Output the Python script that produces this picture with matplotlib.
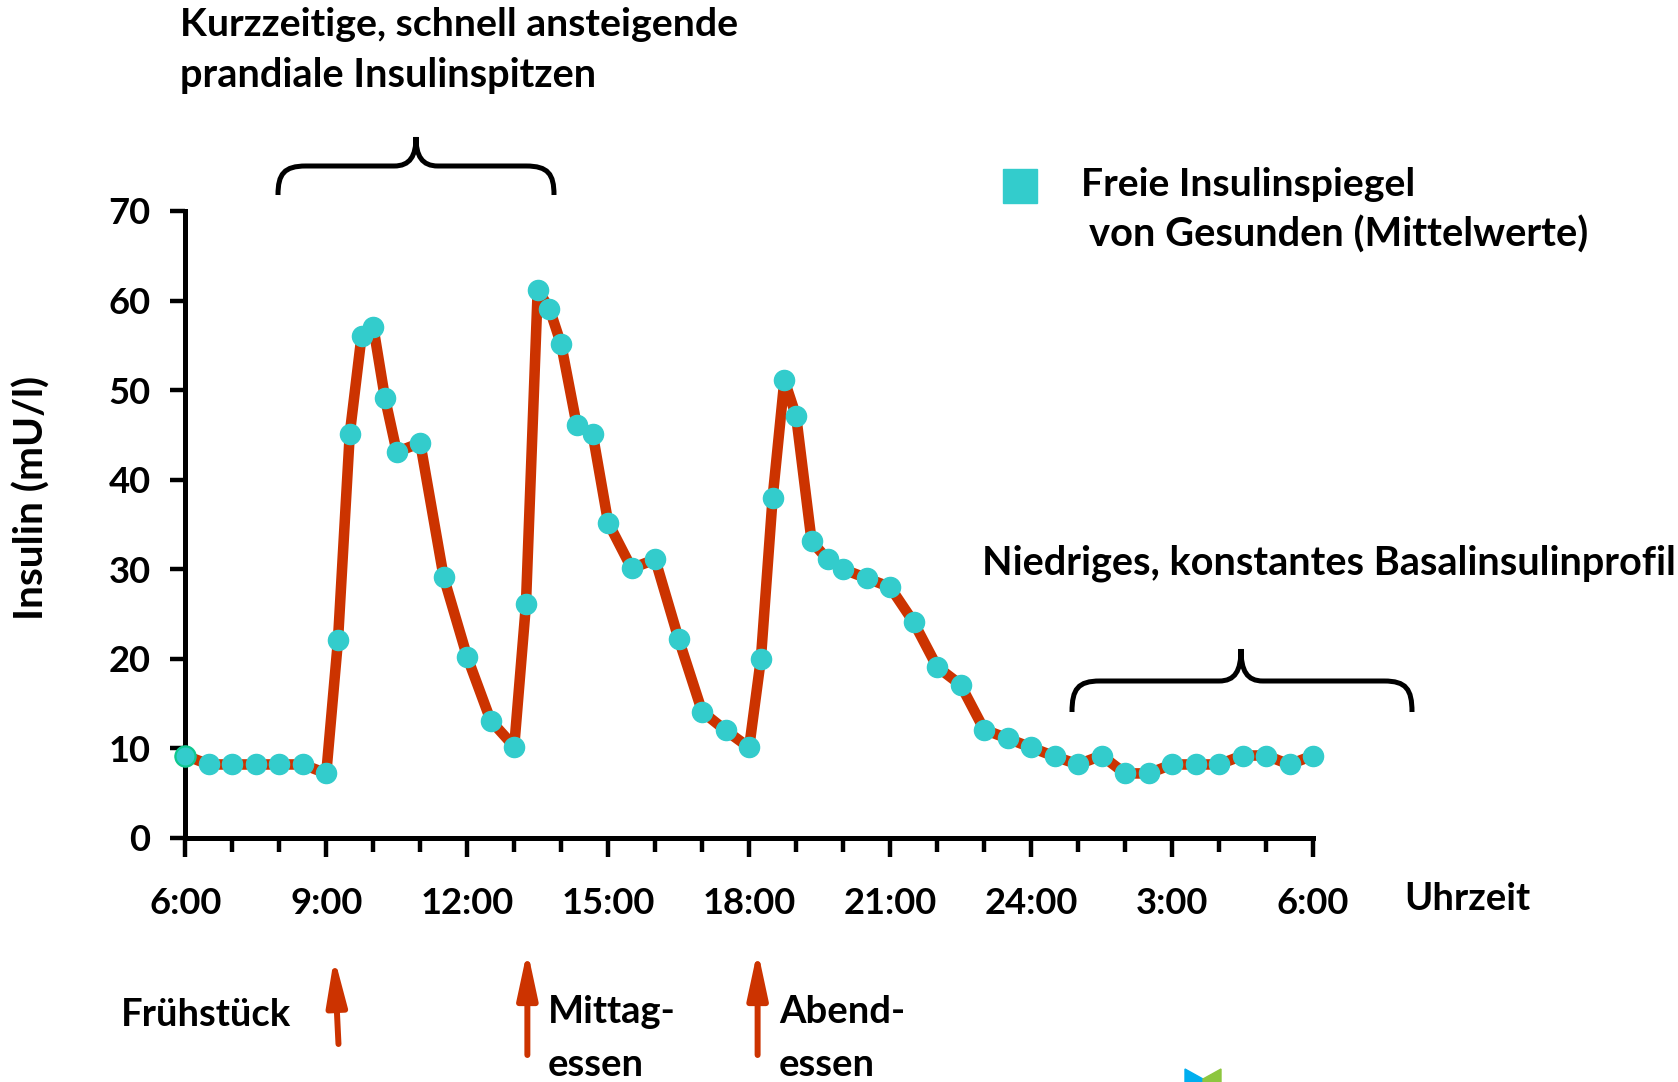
import matplotlib
matplotlib.use("Agg")
import matplotlib.pyplot as plt
from matplotlib.path import Path
from matplotlib.patches import PathPatch, Rectangle, Polygon
from matplotlib.transforms import Affine2D

# ---------------- data ----------------
times = [6, 6.5, 7, 7.5, 8, 8.5, 9, 9.25, 9.5, 9.75, 10, 10.25, 10.5, 11, 11.5,
         12, 12.5, 13, 13.25, 13.5, 13.75, 14, 14.33, 14.67, 15, 15.5, 16, 16.5,
         17, 17.5, 18, 18.25, 18.5, 18.75, 19, 19.33, 19.67, 20, 20.5, 21, 21.5,
         22, 22.5, 23, 23.5, 24, 24.5, 25, 25.5, 26, 26.5, 27, 27.5, 28, 28.5,
         29, 29.5, 30]
insulin = [9.2, 8.2, 8.2, 8.2, 8.2, 8.2, 7.2, 22.1, 45.1, 56.0, 57.1, 49.1, 43.1,
           44.1, 29.1, 20.2, 13.1, 10.2, 26.1, 61.2, 59.1, 55.1, 46.1, 45.1, 35.2,
           30.1, 31.1, 22.2, 14.1, 12.0, 10.1, 20.0, 38.0, 51.1, 47.1, 33.1, 31.1,
           30.0, 29.0, 28.0, 24.1, 19.1, 17.1, 12.1, 11.1, 10.1, 9.1, 8.2, 9.2,
           7.2, 7.2, 8.2, 8.2, 8.2, 9.2, 9.2, 8.2, 9.2]
xtick_pos = [6, 9, 12, 15, 18, 21, 24, 27, 30]
xtick_labels = ["6:00", "9:00", "12:00", "15:00", "18:00", "21:00", "24:00", "3:00", "6:00"]
ytick_pos = [0, 10, 20, 30, 40, 50, 60, 70]
meal_labels = [["Frühstück"], ["Mittag-", "essen"], ["Abend-", "essen"]]
meal_tip = [9.17, 13.28, 18.18]
meal_tail = [9.26, 13.28, 18.18]

RED = "#CC3300"
CYAN = "#33CCCC"

plt.rcParams["font.family"] = ["Lato", "DejaVu Sans"]
plt.rcParams["font.weight"] = "bold"

W, H = 1678, 1082
fig = plt.figure(figsize=(W / 100, H / 100), dpi=100)
px = Affine2D().scale(1 / W, -1 / H).translate(0, 1) + fig.transFigure
renderer = fig.canvas.get_renderer()


def fitted_size(s, target):
    t = fig.text(0, 0, s, fontsize=20, fontweight="bold")
    bb = t.get_window_extent(renderer)
    t.remove()
    return 20 * target / bb.width


def ftext(x, y, s, target_w, ha="left", va="center", rotation=0, fs=None, **kw):
    if fs is None:
        fs = fitted_size(s, target_w)
    return fig.text(x, y, s, transform=px, fontsize=fs, fontweight="bold",
                    ha=ha, va=va, rotation=rotation, **kw)


y_top, y_bot = 211.0, 837.9
ax = fig.add_axes([185.3 / W, 1 - y_bot / H, (1313 - 185.3) / W, (y_bot - y_top) / H])
ax.plot(times, insulin, color=RED, lw=7.6, zorder=2, clip_on=False)
ax.plot(times, insulin, ls="none", marker="o", ms=14.5, mfc=CYAN, mec=CYAN,
        zorder=3, clip_on=False)
ax.plot(times[:1], insulin[:1], ls="none", marker="o", ms=14.5, mfc=CYAN,
        mec="#10C890", mew=1.6, zorder=4, clip_on=False)

ax.set_xlim(6, 30)
ax.set_ylim(0, 70)
for s in ["top", "right"]:
    ax.spines[s].set_visible(False)
for s in ["left", "bottom"]:
    ax.spines[s].set_linewidth(3.6)
    ax.spines[s].set_capstyle("projecting")

tick_fs = fitted_size("12:00", 94)
ax.set_xticks(xtick_pos)
ax.set_xticklabels(xtick_labels)
ax.set_xticks(range(6, 31), minor=True)
ax.set_yticks(ytick_pos)
ax.tick_params(axis="x", which="major", length=14, width=3.2, pad=21, labelsize=tick_fs)
ax.tick_params(axis="x", which="minor", length=10, width=3.2)
ax.tick_params(axis="y", length=11, width=3.2, pad=14, labelsize=tick_fs)
for lab in ax.get_xticklabels() + ax.get_yticklabels():
    lab.set_fontweight("bold")

# axis titles
ftext(32, 498, "Insulin (mU/l)", 244, ha="center", va="center", rotation=90)
ftext(1404, 899, "Uhrzeit", 126)

# top annotation + brace
ftext(180, 24, "Kurzzeitige, schnell ansteigende", 558)
ftext(180, 76, "prandiale Insulinspitzen", 418)


def brace(x0, x1, xm, yf, ye, yt, r=22):
    verts = [(x0, ye), (x0, yf + 8), (x0 + 6, yf), (x0 + r + 6, yf),
             (xm - 22, yf),
             (xm - 6, yf), (xm, yf - 10), (xm, yt),
             (xm, yf - 10), (xm + 6, yf), (xm + 22, yf),
             (x1 - r - 6, yf),
             (x1 - 6, yf), (x1, yf + 8), (x1, ye)]
    codes = [Path.MOVETO, Path.CURVE4, Path.CURVE4, Path.CURVE4,
             Path.LINETO,
             Path.CURVE4, Path.CURVE4, Path.CURVE4,
             Path.CURVE4, Path.CURVE4, Path.CURVE4,
             Path.LINETO,
             Path.CURVE4, Path.CURVE4, Path.CURVE4]
    fig.add_artist(PathPatch(Path(verts, codes), transform=px, fill=False,
                             lw=3.6, ec="black", capstyle="butt"))


brace(278, 554, 416, 166, 195, 137)
brace(1072, 1412, 1241, 681, 712, 649)

# legend
fig.add_artist(Rectangle((1003, 169), 34, 34, transform=px, color=CYAN))
ftext(1081, 184, "Freie Insulinspiegel", 335)
ftext(1089, 235, "von Gesunden (Mittelwerte)", 501)

ftext(982, 563, "Niedriges, konstantes Basalinsulinprofil", 693)

# meals
tip_y = [957, 950, 950]
tail_y = [1044, 1055, 1055]
for tip, tail, ty, by in zip(meal_tip, meal_tail, tip_y, tail_y):
    ax.annotate("", xy=(tip, H - ty), xycoords=("data", "figure pixels"),
                xytext=(tail, H - by), textcoords=("data", "figure pixels"),
                arrowprops=dict(arrowstyle="-|>,head_length=28,head_width=6",
                                mutation_scale=1, lw=4.3, color=RED,
                                shrinkA=0, shrinkB=0), annotation_clip=False)
meal_fs = fitted_size("Frühstück", 170)
label_x = [121, 548, 779]
for lines, lx in zip(meal_labels, label_x):
    y0 = 1015 if len(lines) == 1 else 1012
    for i, line in enumerate(lines):
        ftext(lx, y0 + 53 * i, line, None, fs=meal_fs)

# logo fragment
fig.add_artist(Polygon([(1185, 1069), (1203, 1079), (1203, 1082), (1185, 1082)],
                       transform=px, color="#00AEEF"))
fig.add_artist(Polygon([(1203, 1079), (1221, 1069), (1221, 1082), (1203, 1082)],
                       transform=px, color="#8DC63F"))

fig.savefig("out.png", dpi=100)
